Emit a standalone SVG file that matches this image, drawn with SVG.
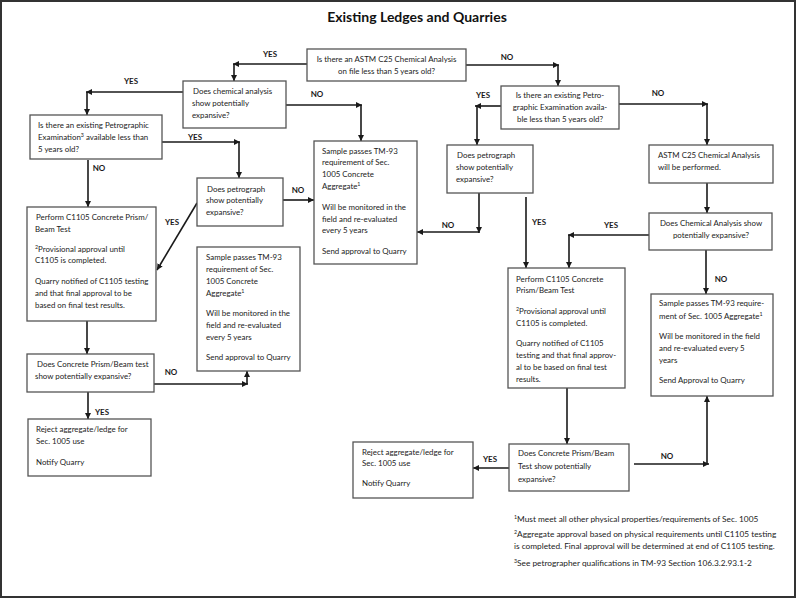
<svg xmlns="http://www.w3.org/2000/svg" width="798" height="599" viewBox="0 0 798 599">
<defs>
<marker id="ah" markerUnits="userSpaceOnUse" markerWidth="7" markerHeight="7" refX="6" refY="3" orient="auto">
<path d="M0,0 L6,3 L0,6 z" fill="#1a1a1a"/>
</marker>
<style>
.box{fill:#fff;stroke:#555;stroke-width:1.3}
.t{font-family:Lato,"Liberation Sans",sans-serif;font-size:7.9px;fill:#222}
.f{font-family:Lato,"Liberation Sans",sans-serif;font-size:8.3px;fill:#222}
.c{text-anchor:middle}
.lbl{font-family:Lato,"Liberation Sans",sans-serif;font-size:8px;font-weight:bold;fill:#1a1a1a;text-anchor:middle}
.con path{fill:none;stroke:#1a1a1a;stroke-width:1.6}
.ar{marker-end:url(#ah)}
.sup{font-size:5.3px}
</style>
</defs>
<rect x="1" y="1" width="794" height="596" fill="#fff" stroke="#333" stroke-width="2"/>
<text x="417" y="22" font-family="Lato,'Liberation Sans',sans-serif" font-size="14" font-weight="bold" fill="#111" text-anchor="middle">Existing Ledges and Quarries</text>

<g id="connectors" class="con">
<path class="ar" d="M307,64 H233"/>
<path class="ar" d="M234,64 V81"/>
<path class="ar" d="M183,92 H86"/>
<path class="ar" d="M87,92 V115"/>
<path class="ar" d="M162,142 H240"/>
<path class="ar" d="M239,142 V178"/>
<path class="ar" d="M88,160 V207"/>
<path class="ar" d="M286,105 H362"/>
<path class="ar" d="M361,105 V141"/>
<path class="ar" d="M197,203 L157,270"/>
<path class="ar" d="M283,200 H314"/>
<path class="ar" d="M87,321 V354"/>
<path class="ar" d="M154,384 H248"/>
<path class="ar" d="M247,384 V371"/>
<path class="ar" d="M88,392 V419"/>
<path class="ar" d="M466,65 H559"/>
<path class="ar" d="M558,65 V86"/>
<path class="ar" d="M501,106 H475"/>
<path class="ar" d="M477,106 V145"/>
<path class="ar" d="M619,104 H708"/>
<path class="ar" d="M707,104 V145"/>
<path class="ar" d="M479,193 V233"/>
<path class="ar" d="M479,232 H417"/>
<path class="ar" d="M526,197 V268"/>
<path class="ar" d="M707,183 V213"/>
<path class="ar" d="M649,235 H568"/>
<path class="ar" d="M569,235 V268"/>
<path class="ar" d="M706,250 V294"/>
<path class="ar" d="M567,388 V444"/>
<path class="ar" d="M509,468 H473"/>
<path class="ar" d="M634,464 H709"/>
<path class="ar" d="M707,464 V396"/>
</g>

<g id="labels">
<text class="lbl" x="270" y="57">YES</text>
<text class="lbl" x="131" y="84">YES</text>
<text class="lbl" x="195" y="140">YES</text>
<text class="lbl" x="99" y="171">NO</text>
<text class="lbl" x="317" y="97">NO</text>
<text class="lbl" x="172" y="225">YES</text>
<text class="lbl" x="298" y="193">NO</text>
<text class="lbl" x="171" y="375">NO</text>
<text class="lbl" x="102" y="415">YES</text>
<text class="lbl" x="507" y="60">NO</text>
<text class="lbl" x="483" y="98">YES</text>
<text class="lbl" x="658" y="96">NO</text>
<text class="lbl" x="448" y="228">NO</text>
<text class="lbl" x="539" y="225">YES</text>
<text class="lbl" x="611" y="228">YES</text>
<text class="lbl" x="721" y="282">NO</text>
<text class="lbl" x="490" y="462">YES</text>
<text class="lbl" x="667" y="459">NO</text>
</g>

<g id="n-c25-on-file">
<rect class="box" x="307" y="49" width="159" height="32"/>
<text class="t c" x="386.5" y="62">Is there an ASTM C25 Chemical Analysis</text>
<text class="t c" x="386.5" y="74">on file less than 5 years old?</text>
</g>

<g id="n-chem-expansive">
<rect class="box" x="183" y="81" width="103" height="47"/>
<text class="t" x="193" y="94">Does chemical analysis</text>
<text class="t" x="192" y="106">show  potentially</text>
<text class="t" x="192" y="118">expansive?</text>
</g>

<g id="n-petro-exam-left">
<rect class="box" x="30" y="115" width="132" height="44"/>
<text class="t" x="38" y="128">Is there an existing Petrographic</text>
<text class="t" x="38" y="140">Examination<tspan class="sup" baseline-shift="super">3</tspan> available less than</text>
<text class="t" x="38" y="152">5 years old?</text>
</g>

<g id="n-perform-left">
<rect class="box" x="27" y="207" width="129" height="114"/>
<text class="t" x="36" y="220">Perform C1105 Concrete Prism/</text>
<text class="t" x="35" y="232">Beam Test</text>
<text class="t" x="35" y="252"><tspan class="sup" baseline-shift="super">2</tspan>Provisional approval until</text>
<text class="t" x="35" y="263">C1105 is completed.</text>
<text class="t" x="35" y="284">Quarry notified of C1105 testing</text>
<text class="t" x="35" y="296">and that final approval to be</text>
<text class="t" x="35" y="308">based on final test results.</text>
</g>

<g id="n-petrograph-left">
<rect class="box" x="197" y="178" width="86" height="48"/>
<text class="t" x="207" y="192">Does petrograph</text>
<text class="t" x="206" y="203">show potentially</text>
<text class="t" x="206" y="215">expansive?</text>
</g>

<g id="n-sample-mid">
<rect class="box" x="314" y="141" width="103" height="123"/>
<text class="t" x="322" y="154">Sample passes TM-93</text>
<text class="t" x="322" y="165">requirement of Sec.</text>
<text class="t" x="322" y="177">1005 Concrete</text>
<text class="t" x="322" y="189">Aggregate<tspan class="sup" baseline-shift="super">1</tspan></text>
<text class="t" x="322" y="210">Will be monitored in the</text>
<text class="t" x="322" y="222">field and re-evaluated</text>
<text class="t" x="322" y="233">every 5 years</text>
<text class="t" x="322" y="254">Send approval to Quarry</text>
</g>

<g id="n-sample-left">
<rect class="box" x="197" y="247" width="103" height="124"/>
<text class="t" x="206" y="260">Sample passes TM-93</text>
<text class="t" x="206" y="272">requirement of Sec.</text>
<text class="t" x="206" y="284">1005 Concrete</text>
<text class="t" x="206" y="296">Aggregate<tspan class="sup" baseline-shift="super">1</tspan></text>
<text class="t" x="206" y="316">Will be monitored in the</text>
<text class="t" x="206" y="328">field and re-evaluated</text>
<text class="t" x="206" y="340">every 5 years</text>
<text class="t" x="206" y="360">Send approval to Quarry</text>
</g>

<g id="n-prism-left">
<rect class="box" x="27" y="354" width="127" height="38"/>
<text class="t" x="37" y="367">Does Concrete Prism/Beam test</text>
<text class="t" x="35" y="379">show potentially expansive?</text>
</g>

<g id="n-reject-left">
<rect class="box" x="28" y="419" width="123" height="57"/>
<text class="t" x="36" y="432">Reject aggregate/ledge for</text>
<text class="t" x="36" y="444">Sec. 1005 use</text>
<text class="t" x="36" y="465">Notify Quarry</text>
</g>

<g id="n-petro-exam-right">
<rect class="box" x="501" y="86" width="118" height="43"/>
<text class="t c" x="560" y="98">Is there an existing Petro-</text>
<text class="t c" x="560" y="110">graphic Examination availa-</text>
<text class="t c" x="560" y="122">ble less than 5 years old?</text>
</g>

<g id="n-petrograph-right">
<rect class="box" x="447" y="145" width="86" height="48"/>
<text class="t" x="457" y="158">Does petrograph</text>
<text class="t" x="456" y="170">show potentially</text>
<text class="t" x="456" y="182">expansive?</text>
</g>

<g id="n-c25-performed">
<rect class="box" x="649" y="145" width="124" height="38"/>
<text class="t" x="658" y="158">ASTM C25 Chemical Analysis</text>
<text class="t" x="658" y="170">will be performed.</text>
</g>

<g id="n-chem-expansive-right">
<rect class="box" x="649" y="213" width="123" height="37"/>
<text class="t c" x="711" y="226">Does Chemical Analysis show</text>
<text class="t c" x="711" y="238">potentially expansive?</text>
</g>

<g id="n-perform-right">
<rect class="box" x="508" y="268" width="117" height="120"/>
<text class="t" x="516" y="282">Perform C1105 Concrete</text>
<text class="t" x="516" y="293">Prism/Beam Test</text>
<text class="t" x="516" y="314"><tspan class="sup" baseline-shift="super">2</tspan>Provisional approval until</text>
<text class="t" x="516" y="326">C1105 is completed.</text>
<text class="t" x="516" y="346">Quarry notified of C1105</text>
<text class="t" x="516" y="358">testing and that final approv-</text>
<text class="t" x="516" y="370">al to be based on final test</text>
<text class="t" x="516" y="382">results.</text>
</g>

<g id="n-sample-right">
<rect class="box" x="651" y="294" width="122" height="102"/>
<text class="t" x="659" y="306">Sample passes TM-93 require-</text>
<text class="t" x="659" y="319">ment of Sec. 1005 Aggregate<tspan class="sup" baseline-shift="super">1</tspan></text>
<text class="t" x="659" y="339">Will be monitored in the field</text>
<text class="t" x="659" y="351">and re-evaluated every 5</text>
<text class="t" x="659" y="363">years</text>
<text class="t" x="659" y="383">Send Approval to Quarry</text>
</g>

<g id="n-prism-right">
<rect class="box" x="509" y="444" width="120" height="47"/>
<text class="t" x="518" y="456">Does Concrete Prism/Beam</text>
<text class="t" x="518" y="469">Test show potentially</text>
<text class="t" x="518" y="482">expansive?</text>
</g>

<g id="n-reject-right">
<rect class="box" x="353" y="442" width="120" height="56"/>
<text class="t" x="362" y="455">Reject aggregate/ledge for</text>
<text class="t" x="362" y="466">Sec. 1005 use</text>
<text class="t" x="362" y="486">Notify Quarry</text>
</g>

<g id="footnotes">
<text class="f" x="514" y="522"><tspan class="sup" baseline-shift="super">1</tspan>Must meet all other physical properties/requirements of Sec. 1005</text>
<text class="f" x="514" y="537"><tspan class="sup" baseline-shift="super">2</tspan>Aggregate approval based on physical requirements until C1105 testing</text>
<text class="f" x="514" y="549">is completed. Final approval will be determined at end of C1105 testing.</text>
<text class="f" x="514" y="566"><tspan class="sup" baseline-shift="super">3</tspan>See petrographer qualifications in TM-93 Section 106.3.2.93.1-2</text>
</g>
</svg>
